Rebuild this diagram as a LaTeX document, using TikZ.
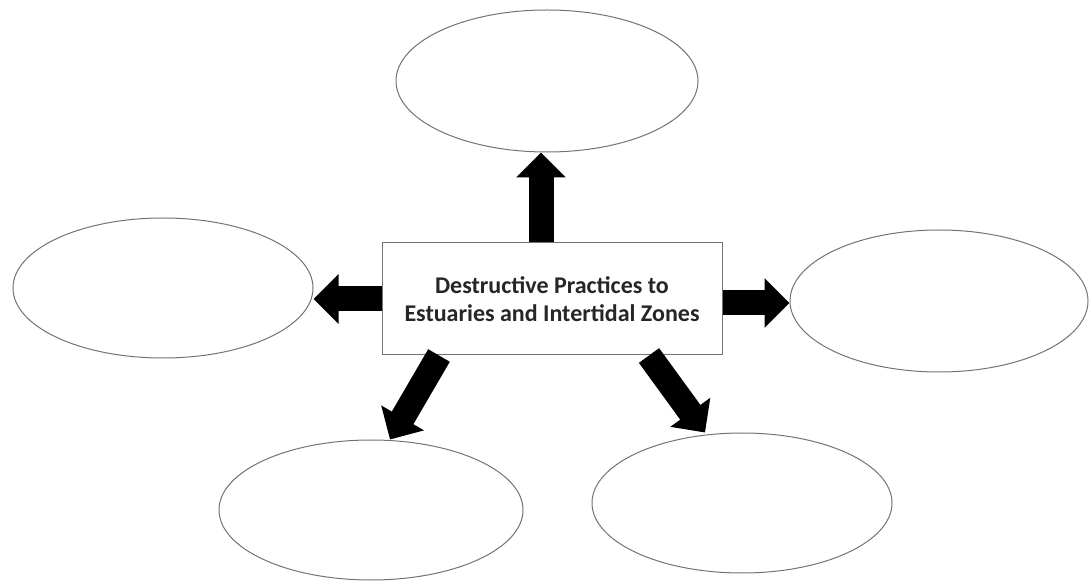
\documentclass[tikz,border=0pt]{standalone}
\usepackage{fontspec}
\setmainfont{Carlito}
\usetikzlibrary{arrows.meta,shapes.geometric}

\begin{document}
\begin{tikzpicture}[
        x=1pt, y=1pt,
        topic_box/.style={
            rectangle,
            draw=black!55,
            line width=1pt,
            fill=white,
            minimum width=340pt,
            minimum height=112pt,
            align=center,
            text=black!85,
            font=\bfseries\fontsize{24}{28}\selectfont
        },
        blank_bubble/.style={
            ellipse,
            draw=black!55,
            line width=1pt,
            fill=white,
            minimum width=300pt,
            minimum height=140pt
        },
        block_arrow/.style={
            -{Triangle[width=48pt,length=25pt]},
            line width=25pt,
            black
        }
    ]

    \useasboundingbox (0,0) rectangle (1089,581);

    % Central topic
    \node[topic_box] (Topic_Box) at (552, 282)
        {Destructive Practices to\\Estuaries and Intertidal Zones};

    % Empty bubbles round the topic
    \node[blank_bubble, minimum width=302pt, minimum height=142pt] (Bubble_Top) at (547, 500) {};
    \node[blank_bubble] (Bubble_Left) at (163, 293) {};
    \node[blank_bubble, minimum width=298pt, minimum height=142pt] (Bubble_Right) at (939, 280) {};
    \node[blank_bubble, minimum width=304pt] (Bubble_LowLeft) at (371, 71) {};
    \node[blank_bubble] (Bubble_LowRight) at (742, 78) {};

    % Arrows from topic to bubbles
    \draw[block_arrow] ([xshift=-11pt]Topic_Box.north) -- ([xshift=-11pt]Topic_Box.north |- Bubble_Top.south);
    \draw[block_arrow] (Topic_Box.west) -- (Topic_Box.west -| Bubble_Left.east);
    \draw[block_arrow] ([yshift=-4pt]Topic_Box.east) -- ([yshift=-4pt]Topic_Box.east -| Bubble_Right.west);
    \draw[block_arrow] ([xshift=-113pt]Topic_Box.south) -- ([xshift=19pt]Bubble_LowLeft.north);
    \draw[block_arrow] ([xshift=97pt]Topic_Box.south) -- ([xshift=-37pt]Bubble_LowRight.north);

\end{tikzpicture}
\end{document}
